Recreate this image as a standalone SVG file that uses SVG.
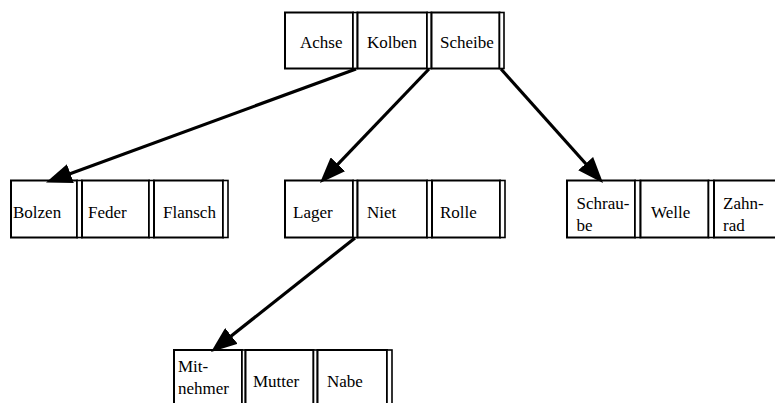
<svg xmlns="http://www.w3.org/2000/svg" width="775" height="403" viewBox="0 0 775 403">
  <style>
    .key { fill: #fff; stroke: #000; stroke-width: 2; }
    .ptr { fill: #fff; stroke: #000; stroke-width: 1.6; }
    .lbl { font-family: "Liberation Serif", "Times New Roman", serif; font-size: 17px; fill: #000; }
    .edge { stroke: #000; stroke-width: 3.2; fill: none; marker-end: url(#head); }
  </style>
  <defs>
    <marker id="head" viewBox="0 0 26 20" refX="20" refY="10" markerWidth="26" markerHeight="20" markerUnits="userSpaceOnUse" orient="auto">
      <path d="M0,0 L26,10 L0,20 Z" fill="#000"/>
    </marker>
  </defs>
  <rect width="775" height="403" fill="#fff"/>

  <!-- root node -->
  <g id="node-root">
    <rect class="key" x="285" y="12.5" width="68" height="56"/>
    <rect class="ptr" x="353" y="12.5" width="4.5" height="56"/>
    <rect class="key" x="357.5" y="12.5" width="69.5" height="56"/>
    <rect class="ptr" x="427" y="12.5" width="4.5" height="56"/>
    <rect class="key" x="431.5" y="12.5" width="68" height="56"/>
    <rect class="ptr" x="499.5" y="12.5" width="4.5" height="56"/>
    <text class="lbl" x="300" y="48">Achse</text>
    <text class="lbl" x="367" y="48">Kolben</text>
    <text class="lbl" x="440" y="48">Scheibe</text>
  </g>

  <!-- left leaf -->
  <g id="node-bolzen">
    <rect class="key" x="11" y="180.5" width="66" height="57"/>
    <rect class="ptr" x="77" y="180.5" width="5" height="57"/>
    <rect class="key" x="82" y="180.5" width="67" height="57"/>
    <rect class="ptr" x="149" y="180.5" width="5" height="57"/>
    <rect class="key" x="154" y="180.5" width="69" height="57"/>
    <rect class="ptr" x="223" y="180.5" width="5" height="57"/>
    <text class="lbl" x="13" y="218">Bolzen</text>
    <text class="lbl" x="88" y="218">Feder</text>
    <text class="lbl" x="163" y="218">Flansch</text>
  </g>

  <!-- middle node -->
  <g id="node-lager">
    <rect class="key" x="285" y="180.5" width="68" height="57"/>
    <rect class="ptr" x="353" y="180.5" width="4.5" height="57"/>
    <rect class="key" x="357.5" y="180.5" width="69.5" height="57"/>
    <rect class="ptr" x="427" y="180.5" width="5" height="57"/>
    <rect class="key" x="432" y="180.5" width="68" height="57"/>
    <rect class="ptr" x="500" y="180.5" width="5" height="57"/>
    <text class="lbl" x="293" y="218">Lager</text>
    <text class="lbl" x="367" y="218">Niet</text>
    <text class="lbl" x="440" y="218">Rolle</text>
  </g>

  <!-- right leaf -->
  <g id="node-schraube">
    <rect class="key" x="567" y="180.5" width="68" height="57"/>
    <rect class="ptr" x="635" y="180.5" width="5.5" height="57"/>
    <rect class="key" x="640.5" y="180.5" width="68" height="57"/>
    <rect class="ptr" x="708.5" y="180.5" width="5.5" height="57"/>
    <rect class="key" x="714" y="180.5" width="68" height="57"/>
    <text class="lbl" x="576.5" y="209">Schrau-</text>
    <text class="lbl" x="576.5" y="231">be</text>
    <text class="lbl" x="651" y="218">Welle</text>
    <text class="lbl" x="723" y="209">Zahn-</text>
    <text class="lbl" x="723" y="231">rad</text>
  </g>

  <!-- bottom leaf -->
  <g id="node-mitnehmer">
    <rect class="key" x="174" y="350" width="68" height="62"/>
    <rect class="ptr" x="242" y="350" width="3.5" height="62"/>
    <rect class="key" x="245.5" y="350" width="68" height="62"/>
    <rect class="ptr" x="313.5" y="350" width="4" height="62"/>
    <rect class="key" x="317.5" y="350" width="69.5" height="62"/>
    <rect class="ptr" x="387" y="350" width="5" height="62"/>
    <text class="lbl" x="178" y="372">Mit-</text>
    <text class="lbl" x="178" y="394">nehmer</text>
    <text class="lbl" x="253" y="387">Mutter</text>
    <text class="lbl" x="327" y="387">Nabe</text>
  </g>

  <!-- child pointers -->
  <g id="edges">
    <path class="edge" d="M356,69 L51.6,180.4"/>
    <path class="edge" d="M429,69 L324.1,178.7"/>
    <path class="edge" d="M501,69 L599,178.5"/>
    <path class="edge" d="M355,238 L215.7,348.3"/>
  </g>
</svg>
